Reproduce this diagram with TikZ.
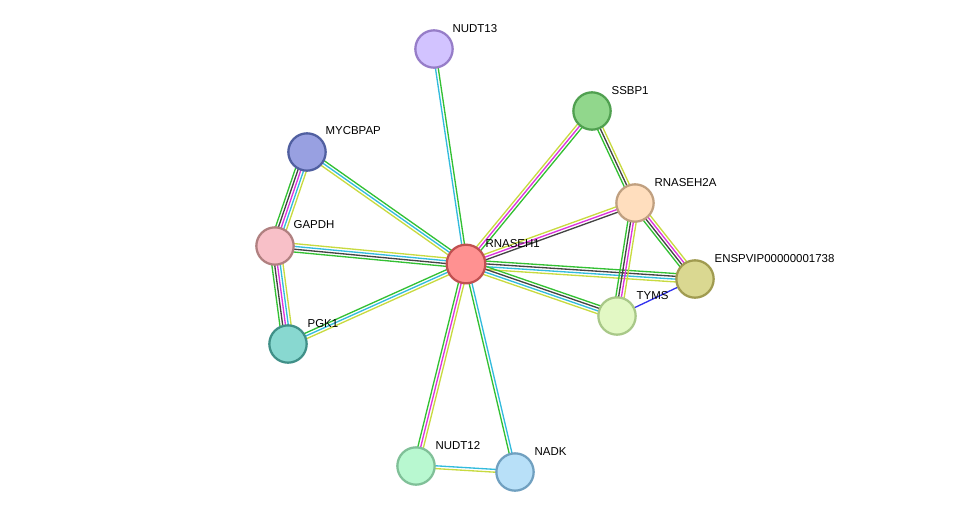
\documentclass[tikz,border=0pt]{standalone}
\usepackage{fontspec}
\setmainfont{Liberation Sans}
\usetikzlibrary{calc,positioning}
\pgfdeclarelayer{bg}
\pgfsetlayers{bg,main}
\definecolor{egreen}{HTML}{33C033}
\definecolor{ecyan}{HTML}{33BBDD}
\definecolor{eyellow}{HTML}{C8DA40}
\definecolor{emag}{HTML}{DD33DD}
\definecolor{eblack}{HTML}{444444}
\definecolor{eblue}{HTML}{3333EE}
% edge with parallel colored lines
\newcommand\stredge[4]{%
  \foreach \c [count=\i] in {#4} {
    \pgfmathsetmacro\off{(\i-(#3+1)/2)*2.1}
    \draw[\c, line width=1pt]
      ($(#1.center)!\off pt!90:(#2.center)$) -- ($(#2.center)!\off pt!-90:(#1.center)$);
  }}
\begin{document}
\begin{tikzpicture}[x=0.75pt,y=-0.75pt,
    prot/.style={circle, line width=1.7pt, minimum size=28pt, inner sep=0pt},
    lbl/.style={font=\fontsize{8.6}{9}\selectfont, inner sep=1pt, anchor=south west}
]
    \useasboundingbox (0,0) rectangle (975,518);
    % Nodes
    \node[prot, fill={rgb,255:red,255;green,145;blue,145}, draw={rgb,255:red,192;green,80;blue,80}, minimum size=29pt] (rnaseh1) at (466,264) {};
    \node[prot, fill={rgb,255:red,210;green,195;blue,255}, draw={rgb,255:red,150;green,125;blue,200}] (nudt13) at (434,49) {};
    \node[prot, fill={rgb,255:red,145;green,215;blue,140}, draw={rgb,255:red,80;green,160;blue,80}] (ssbp1) at (592,111) {};
    \node[prot, fill={rgb,255:red,152;green,160;blue,225}, draw={rgb,255:red,80;green,95;blue,160}] (mycbpap) at (307,152) {};
    \node[prot, fill={rgb,255:red,255;green,222;blue,190}, draw={rgb,255:red,192;green,160;blue,128}] (rnaseh2a) at (635,203) {};
    \node[prot, fill={rgb,255:red,248;green,192;blue,200}, draw={rgb,255:red,176;green,128;blue,128}] (gapdh) at (275,246) {};
    \node[prot, fill={rgb,255:red,218;green,216;blue,145}, draw={rgb,255:red,160;green,155;blue,80}] (ensp) at (695,279) {};
    \node[prot, fill={rgb,255:red,226;green,248;blue,196}, draw={rgb,255:red,168;green,200;blue,136}] (tyms) at (617,316) {};
    \node[prot, fill={rgb,255:red,136;green,216;blue,208}, draw={rgb,255:red,64;green,144;blue,136}] (pgk1) at (288,344) {};
    \node[prot, fill={rgb,255:red,184;green,248;blue,208}, draw={rgb,255:red,128;green,192;blue,152}] (nudt12) at (416,466) {};
    \node[prot, fill={rgb,255:red,184;green,224;blue,248}, draw={rgb,255:red,112;green,160;blue,192}] (nadk) at (515,472) {};

    % Edges
    \begin{pgfonlayer}{bg}
    \stredge{rnaseh1}{nudt13}{2}{egreen,ecyan}
    \stredge{rnaseh1}{ssbp1}{3}{egreen,emag,eyellow}
    \stredge{rnaseh1}{mycbpap}{3}{egreen,ecyan,eyellow}
    \stredge{rnaseh1}{rnaseh2a}{3}{eblack,emag,eyellow}
    \stredge{rnaseh1}{gapdh}{4}{eyellow,ecyan,eblack,egreen}
    \stredge{rnaseh1}{ensp}{4}{eyellow,ecyan,eblack,egreen}
    \stredge{rnaseh1}{tyms}{4}{eyellow,ecyan,eblack,egreen}
    \stredge{rnaseh1}{pgk1}{3}{egreen,ecyan,eyellow}
    \stredge{rnaseh1}{nudt12}{3}{egreen,emag,eyellow}
    \stredge{rnaseh1}{nadk}{2}{egreen,ecyan}
    \stredge{mycbpap}{gapdh}{5}{egreen,eblack,emag,ecyan,eyellow}
    \stredge{gapdh}{pgk1}{5}{egreen,eblack,emag,ecyan,eyellow}
    \stredge{ssbp1}{rnaseh2a}{3}{egreen,eblack,eyellow}
    \stredge{rnaseh2a}{ensp}{4}{egreen,eblack,emag,eyellow}
    \stredge{rnaseh2a}{tyms}{4}{egreen,eblack,emag,eyellow}
    \stredge{tyms}{ensp}{1}{eblue}
    \stredge{nudt12}{nadk}{2}{eyellow,ecyan}
    \end{pgfonlayer}

    % Labels
    \node[lbl] at ($(rnaseh1)+(18,-15)$) {RNASEH1};
    \node[lbl] at ($(nudt13)+(17,-15)$) {NUDT13};
    \node[lbl] at ($(ssbp1)+(18,-15)$) {SSBP1};
    \node[lbl] at ($(mycbpap)+(17,-16)$) {MYCBPAP};
    \node[lbl] at ($(rnaseh2a)+(18,-15)$) {RNASEH2A};
    \node[lbl] at ($(gapdh)+(17,-16)$) {GAPDH};
    \node[lbl] at ($(ensp)+(18,-15)$) {ENSPVIP00000001738};
    \node[lbl] at ($(tyms)+(18,-15)$) {TYMS};
    \node[lbl] at ($(pgk1)+(18,-15)$) {PGK1};
    \node[lbl] at ($(nudt12)+(18,-15)$) {NUDT12};
    \node[lbl] at ($(nadk)+(18,-15)$) {NADK};
\end{tikzpicture}
\end{document}
